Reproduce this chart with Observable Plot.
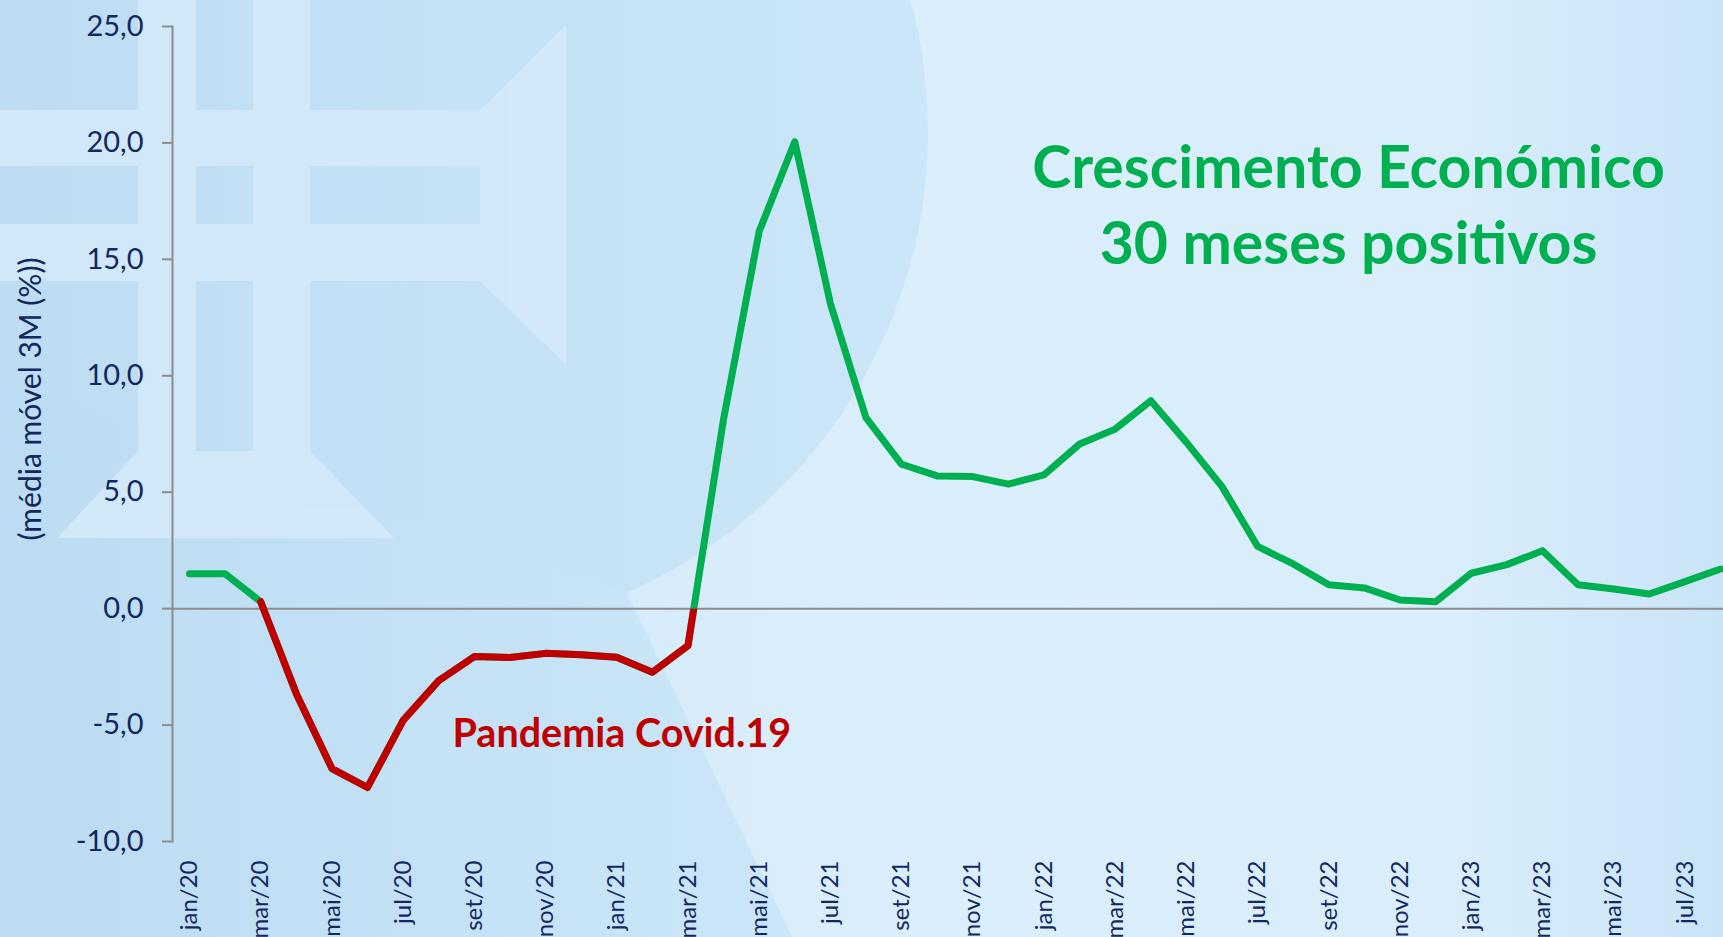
<!DOCTYPE html>
<html><head><meta charset="utf-8">
<script src="https://cdn.jsdelivr.net/npm/d3@7"></script>
<script src="https://cdn.jsdelivr.net/npm/@observablehq/plot@0.6"></script>
<style>
html,body{margin:0;padding:0;overflow:hidden;background:#d6ebfa;}
#wrap{position:relative;width:1723px;height:937px;overflow:hidden;}
#bg{position:absolute;left:0;top:0;}
#chart{position:absolute;left:0;top:0;}
</style></head><body>
<div id="wrap">
<svg id="bg" width="1723" height="937" xmlns="http://www.w3.org/2000/svg">
  <defs>
    <linearGradient id="base" x1="0" x2="1" y1="0" y2="0">
      <stop offset="0" stop-color="#cfe7f8"/>
      <stop offset="0.55" stop-color="#dbeefb"/>
      <stop offset="0.85" stop-color="#d9edfb"/>
      <stop offset="1" stop-color="#c9e4f7"/>
    </linearGradient>
    <linearGradient id="dark" x1="0" x2="1" y1="0" y2="0">
      <stop offset="0" stop-color="#bcdcf3"/>
      <stop offset="1" stop-color="#cbe6f8"/>
    </linearGradient>
  </defs>
  <rect x="0" y="0" width="1723" height="937" fill="url(#base)"/>
  <g fill="url(#dark)">
    <circle cx="425" cy="132" r="503"/>
    <polygon points="0,380 627,593 792,937 0,937"/>
  </g>
  <g fill="#d5eaf9" opacity="0.85">
    <rect x="138" y="0" width="58" height="451"/>
    <rect x="253" y="0" width="57" height="451"/>
    <rect x="0" y="110" width="480" height="56"/>
    <rect x="0" y="224" width="480" height="57"/>
    <polygon points="480,110 566,25 566,365 480,281"/>
    <polygon points="138,451 310,451 394,538 57,538"/>
  </g>
</svg>
<div id="chart"></div>
</div>
<script>
const months = [
  "jan/20","fev/20","mar/20","abr/20","mai/20","jun/20","jul/20","ago/20","set/20","out/20","nov/20","dez/20",
  "jan/21","fev/21","mar/21","abr/21","mai/21","jun/21","jul/21","ago/21","set/21","out/21","nov/21","dez/21",
  "jan/22","fev/22","mar/22","abr/22","mai/22","jun/22","jul/22","ago/22","set/22","out/22","nov/22","dez/22",
  "jan/23","fev/23","mar/23","abr/23","mai/23","jun/23","jul/23","ago/23"
];
const values = [
  1.5, 1.5, 0.3, -3.65, -6.87, -7.68, -4.8, -3.09, -2.06, -2.1, -1.92, -1.98,
  -2.09, -2.73, -1.59, 8.14, 16.2, 20.05, 13.1, 8.2, 6.2, 5.7, 5.67, 5.35,
  5.74, 7.07, 7.71, 8.93, 7.14, 5.24, 2.67, 1.92, 1.03, 0.89, 0.37, 0.3,
  1.52, 1.89, 2.49, 1.03, 0.84, 0.63, 1.16, 1.7
];
const yTicks = [-10, -5, 0, 5, 10, 15, 20, 25];
const labelMonths = months.filter((d, i) => i % 2 === 0);
const redStart = "mar/20";
const redEnd = "abr/21";
const titleLines = ["Crescimento Económico", "30 meses positivos"];
const covidLabel = "Pandemia Covid.19";
const yLabel = "(média móvel 3M (%))";

const data = months.map((m, i) => ({month: m, value: values[i]}));
const red = data.slice(months.indexOf(redStart), months.indexOf(redEnd) + 1);
const fmt = d => d.toFixed(1).replace(".", ",");
const navy = "#13285f";
const grey = "#8c8c8c";

const chart = Plot.plot({
  width: 1723, height: 937,
  marginLeft: 172, marginRight: 0, marginTop: 26, marginBottom: 96,
  style: {background: "transparent", fontFamily: "Lato, sans-serif", color: navy, overflow: "visible"},
  x: {type: "point", domain: months, range: [189, 1720], padding: 0, round: false},
  y: {domain: [-10, 25]},
  marks: [
    Plot.ruleY([0], {stroke: grey, strokeWidth: 2}),
    Plot.frame({anchor: "left", stroke: grey, strokeWidth: 2}),
    Plot.axisY({ticks: yTicks, tickFormat: fmt, tickSize: 10, tickPadding: 19, fontSize: 29, stroke: grey, strokeWidth: 2, label: null}),
    Plot.axisX({ticks: labelMonths, tickRotate: -90, tickSize: 0, tickPadding: 19, fontSize: 24, label: null}),
    Plot.line(data, {x: "month", y: "value", stroke: "#00b050", strokeWidth: 7, strokeLinecap: "round", strokeLinejoin: "round"}),
    Plot.line(red, {x: "month", y: "value", stroke: "#c00000", strokeWidth: 7, strokeLinecap: "round", strokeLinejoin: "round"}),
    Plot.text([titleLines.join("\n")], {frameAnchor: "top-right", textAnchor: "middle", lineAnchor: "top", dx: -375, dy: 107, fontSize: 59, fontWeight: "bold", fill: "#00b050", lineHeight: 1.29}),
    Plot.text([covidLabel], {frameAnchor: "left", textAnchor: "start", lineAnchor: "middle", dx: 280, dy: 300, fontSize: 39.5, fontWeight: "bold", fill: "#c00000"}),
    Plot.text([yLabel], {frameAnchor: "left", textAnchor: "middle", lineAnchor: "middle", rotate: -90, dx: -141, dy: -35, fontSize: 30, fill: navy})
  ]
});
document.getElementById("chart").appendChild(chart);

// clip the red series so it stops where the line crosses zero after mar/21
const xs = chart.scale("x"), ys = chart.scale("y");
const xm = xs.apply(months[months.indexOf(redEnd) - 1]);
const y0 = ys.apply(0);
const ns = "http://www.w3.org/2000/svg";
const defs = document.createElementNS(ns, "defs");
const cp = document.createElementNS(ns, "clipPath");
cp.setAttribute("id", "redclip");
const poly = document.createElementNS(ns, "polygon");
poly.setAttribute("points", `0,0 ${xm},0 ${xm},${y0} 1723,${y0} 1723,937 0,937`);
cp.appendChild(poly); defs.appendChild(cp); chart.insertBefore(defs, chart.firstChild);
const redG = chart.querySelector('g[stroke="#c00000"]');
if (redG) redG.setAttribute("clip-path", "url(#redclip)");
</script>
</body></html>
